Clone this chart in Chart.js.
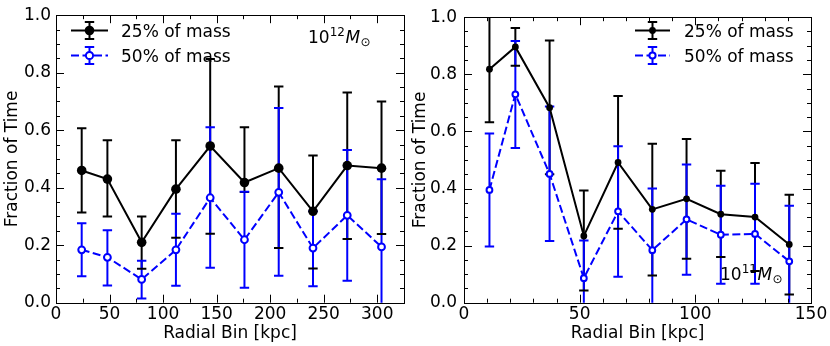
<!DOCTYPE html>
<html>
<head>
<meta charset="utf-8">
<script src="https://cdn.jsdelivr.net/npm/chart.js@4/dist/chart.umd.min.js"></script>
<style>
  html, body { margin: 0; padding: 0; background: #fff; }
  #wrap { position: relative; width: 830px; height: 346px; }
  canvas { position: absolute; top: 0; }
  #c1 { left: 0; }
  #c2 { left: 405px; }
</style>
</head>
<body>
<div id="wrap">
  <canvas id="c1" width="415" height="346"></canvas>
  <canvas id="c2" width="425" height="346"></canvas>
</div>
<script>
// ---- data ----
// left panel: 10^12 Msun
const radiusHigh = [24, 48, 80, 112, 144, 176, 208, 240, 272, 304];
const high25   = [0.46, 0.43, 0.21, 0.395, 0.545, 0.418, 0.468, 0.318, 0.477, 0.468];
const high25Lo = [0.314, 0.30, 0.118, 0.226, 0.24, 0.385, 0.19, 0.119, 0.222, 0.239];
const high25Hi = [0.607, 0.565, 0.30, 0.565, 0.848, 0.61, 0.752, 0.512, 0.731, 0.70];
const high50   = [0.184, 0.158, 0.081, 0.184, 0.365, 0.219, 0.384, 0.19, 0.304, 0.194];
const high50Lo = [0.092, 0.06, 0.015, 0.059, 0.122, 0.052, 0.094, 0.057, 0.076, -0.03];
const high50Hi = [0.276, 0.252, 0.146, 0.309, 0.61, 0.386, 0.677, 0.318, 0.531, 0.429];

// right panel: 10^11 Msun
const radiusLow = [11, 22.2, 37, 51.8, 66.6, 81.4, 96.2, 111, 125.8, 140.6];
const low25   = [0.818, 0.896, 0.683, 0.234, 0.491, 0.327, 0.364, 0.31, 0.30, 0.204];
const low25Lo = [0.632, 0.83, 0.45, 0.043, 0.259, 0.095, 0.154, 0.16, 0.111, 0.029];
const low25Hi = [1.05, 0.962, 0.918, 0.393, 0.724, 0.557, 0.573, 0.462, 0.489, 0.378];
const low50   = [0.395, 0.73, 0.451, 0.086, 0.32, 0.184, 0.292, 0.238, 0.241, 0.145];
const low50Lo = [0.197, 0.542, 0.216, -0.03, 0.091, -0.03, 0.098, 0.066, 0.066, -0.03];
const low50Hi = [0.593, 0.917, 0.687, 0.218, 0.548, 0.40, 0.484, 0.41, 0.417, 0.34];

const xTicksHigh = [0, 50, 100, 150, 200, 250, 300];
const xTicksLow = [0, 50, 100, 150];
const yTicks = [0.0, 0.2, 0.4, 0.6, 0.8, 1.0];
const seriesNames = ['25% of mass', '50% of mass'];

const BLUE = '#0000ff';
const FONT = "'DejaVu Sans', sans-serif";
const DASH = [8, 3.5];
Chart.defaults.font.family = FONT;
Chart.defaults.color = '#000';

function errPlugin(bars) {
  return {
    id: 'errbars',
    beforeDatasetsDraw(chart) {
      const { ctx, chartArea: a, scales: { x, y } } = chart;
      ctx.save();
      ctx.beginPath();
      ctx.rect(a.left, a.top, a.right - a.left, a.bottom - a.top);
      ctx.clip();
      ctx.lineWidth = 2;
      bars.forEach(b => {
        ctx.strokeStyle = b.color;
        ctx.beginPath();
        b.xs.forEach((xv, i) => {
          const px = x.getPixelForValue(xv);
          ctx.moveTo(px, y.getPixelForValue(b.lo[i]));
          ctx.lineTo(px, y.getPixelForValue(b.hi[i]));
        });
        ctx.stroke();
      });
      bars.forEach(b => {
        ctx.strokeStyle = b.color;
        ctx.beginPath();
        b.xs.forEach((xv, i) => {
          const px = x.getPixelForValue(xv);
          [b.lo[i], b.hi[i]].forEach(v => {
            const py = y.getPixelForValue(v);
            ctx.moveTo(px - 4.7, py);
            ctx.lineTo(px + 4.7, py);
          });
        });
        ctx.stroke();
      });
      ctx.restore();
    }
  };
}

function framePlugin(cfg) {
  return {
    id: 'frame',
    afterDraw(chart) {
      const { ctx, chartArea: a, scales: { x, y } } = chart;
      ctx.save();
      ctx.strokeStyle = '#000';
      ctx.lineWidth = 1;
      ctx.strokeRect(Math.round(a.left) + 0.5, Math.round(a.top) + 0.5,
        Math.round(a.right - a.left), Math.round(a.bottom - a.top));
      ctx.beginPath();
      for (let v = x.min; v <= x.max + 1e-9; v += cfg.minorX) {
        const major = cfg.xTicks.some(t => Math.abs(t - v) < 1e-6);
        const len = major ? 8 : 4;
        const px = Math.round(x.getPixelForValue(v)) + 0.5;
        ctx.moveTo(px, a.bottom); ctx.lineTo(px, a.bottom - len);
        ctx.moveTo(px, a.top); ctx.lineTo(px, a.top + len);
      }
      for (let v = 0; v <= 1 + 1e-9; v += 0.05) {
        const major = yTicks.some(t => Math.abs(t - v) < 1e-6);
        const len = major ? 8 : 4;
        const py = Math.round(y.getPixelForValue(v)) + 0.5;
        ctx.moveTo(a.left, py); ctx.lineTo(a.left + len, py);
        ctx.moveTo(a.right, py); ctx.lineTo(a.right - len, py);
      }
      ctx.stroke();

      // legend
      const L = cfg.legend;
      [0, 1].forEach(k => {
        const ry = L.y + k * 25;
        const col = k === 0 ? '#000' : BLUE;
        const mx = (L.x0 + L.x1) / 2;
        ctx.strokeStyle = col;
        ctx.lineWidth = 2;
        ctx.setLineDash(k === 0 ? [] : DASH);
        ctx.beginPath(); ctx.moveTo(L.x0, ry); ctx.lineTo(L.x1, ry); ctx.stroke();
        ctx.setLineDash([]);
        ctx.beginPath();
        ctx.moveTo(mx, ry - 8.5); ctx.lineTo(mx, ry + 8.5);
        ctx.moveTo(mx - 4.7, ry - 8.5); ctx.lineTo(mx + 4.7, ry - 8.5);
        ctx.moveTo(mx - 4.7, ry + 8.5); ctx.lineTo(mx + 4.7, ry + 8.5);
        ctx.stroke();
        ctx.beginPath();
        if (k === 0) {
          ctx.fillStyle = '#000';
          ctx.arc(mx, ry, L.r0, 0, Math.PI * 2); ctx.fill();
        } else {
          ctx.fillStyle = '#fff';
          ctx.lineWidth = 2;
          ctx.arc(mx, ry, L.r1, 0, Math.PI * 2); ctx.fill(); ctx.stroke();
        }
        ctx.fillStyle = '#000';
        ctx.font = '17px ' + FONT;
        ctx.textBaseline = 'alphabetic';
        ctx.textAlign = 'left';
        ctx.fillText(seriesNames[k], L.tx, ry + 6);
      });

      // mass label
      const M = cfg.mass;
      let tx = M.x;
      ctx.fillStyle = '#000';
      ctx.font = '17px ' + FONT;
      ctx.fillText('10', tx, M.y); tx += ctx.measureText('10').width;
      ctx.font = '12px ' + FONT;
      ctx.fillText(M.exp, tx, M.y - 7); tx += ctx.measureText(M.exp).width + 0.5;
      ctx.font = 'italic 17px ' + FONT;
      ctx.fillText('M', tx, M.y); tx += ctx.measureText('M').width + 0.5;
      ctx.font = '12px ' + FONT;
      ctx.fillText('\u2299', tx, M.y + 2.5);
      ctx.restore();
    }
  };
}

function makePanel(id, opt) {
  return new Chart(document.getElementById(id), {
    type: 'scatter',
    data: {
      datasets: [
        {
          data: opt.xs.map((v, i) => ({ x: v, y: opt.s50[i] })),
          showLine: true, order: 0,
          borderColor: BLUE, borderWidth: 2, borderDash: DASH,
          pointRadius: opt.r1, pointBorderWidth: 2,
          pointBackgroundColor: '#fff', pointBorderColor: BLUE
        },
        {
          data: opt.xs.map((v, i) => ({ x: v, y: opt.s25[i] })),
          showLine: true, order: 1,
          borderColor: '#000', borderWidth: 2,
          pointRadius: opt.r0, pointBorderWidth: 0,
          pointBackgroundColor: '#000', pointBorderColor: '#000'
        }
      ]
    },
    options: {
      responsive: false,
      animation: false,
      devicePixelRatio: 1,
      events: [],
      layout: { autoPadding: false, padding: { left: 0, top: 8, right: opt.padRight, bottom: 0 } },
      plugins: { legend: { display: false }, tooltip: { enabled: false } },
      scales: {
        x: {
          type: 'linear', min: 0, max: opt.xMax,
          grid: { display: false, drawTicks: false },
          border: { display: false },
          afterBuildTicks: s => { s.ticks = opt.xTicks.map(v => ({ value: v })); },
          afterFit: s => { s.height = 43.3; },
          ticks: { font: { size: 17 }, padding: 2, autoSkip: false, maxRotation: 0,
            callback: v => String(v) },
          title: { display: true, text: 'Radial Bin [kpc]', font: { size: 17 },
            padding: { top: 0, bottom: 2 } }
        },
        y: {
          type: 'linear', min: 0, max: 1,
          grid: { display: false, drawTicks: false },
          border: { display: false },
          afterBuildTicks: s => { s.ticks = yTicks.map(v => ({ value: v })); },
          afterFit: s => { s.width = opt.yWidth; },
          ticks: { font: { size: 17 }, padding: opt.yPad, autoSkip: false,
            callback: v => v.toFixed(1) },
          title: { display: true, text: 'Fraction of Time', font: { size: 17 },
            padding: { top: opt.yTitlePad, bottom: 0 } }
        }
      }
    },
    plugins: [
      errPlugin([
        { xs: opt.xs, lo: opt.lo25, hi: opt.hi25, color: '#000' },
        { xs: opt.xs, lo: opt.lo50, hi: opt.hi50, color: BLUE }
      ]),
      framePlugin({ xTicks: opt.xTicks, minorX: opt.minorX, legend: opt.legend, mass: opt.mass })
    ]
  });
}

makePanel('c1', {
  xs: radiusHigh, s25: high25, lo25: high25Lo, hi25: high25Hi,
  s50: high50, lo50: high50Lo, hi50: high50Hi,
  xMax: 325, xTicks: xTicksHigh, minorX: 25,
  padRight: 11, yWidth: 56, yPad: 5, yTitlePad: 2,
  r0: 4.8, r1: 3.4,
  legend: { x0: 71, x1: 108, y: 30.5, tx: 121, r0: 4.8, r1: 3.6 },
  mass: { x: 308, y: 43, exp: '12' }
});

makePanel('c2', {
  xs: radiusLow, s25: low25, lo25: low25Lo, hi25: low25Hi,
  s50: low50, lo50: low50Lo, hi50: low50Hi,
  xMax: 150, xTicks: xTicksLow, minorX: 10,
  padRight: 19, yWidth: 59, yPad: 7, yTitlePad: 5,
  r0: 3.4, r1: 2.9,
  legend: { x0: 230, x1: 265, y: 30.5, tx: 279, r0: 3.4, r1: 3.1 },
  mass: { x: 315, y: 280, exp: '11' }
});
</script>
</body>
</html>
